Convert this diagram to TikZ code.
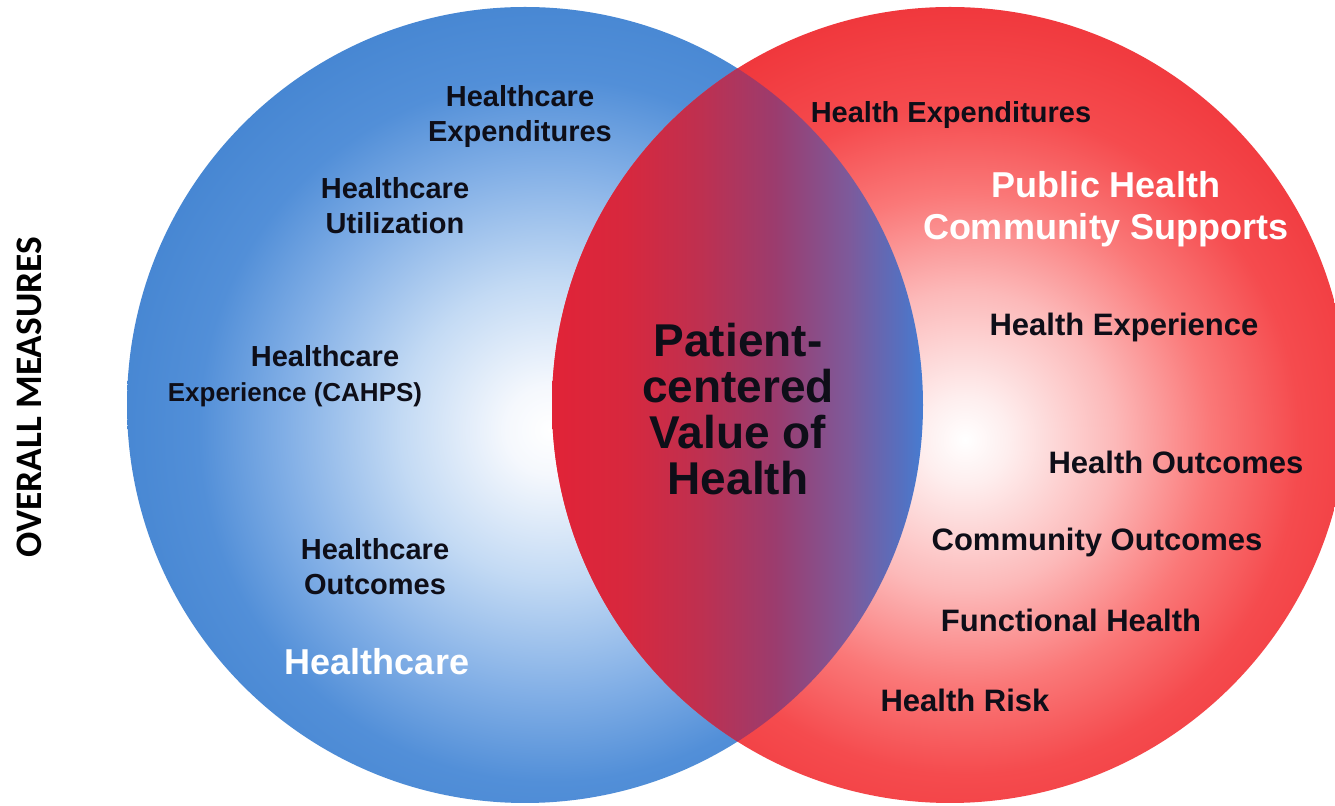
\documentclass[tikz,border=0pt]{standalone}
\usepackage{fontspec}
\setmainfont{Liberation Sans}
\newfontfamily\calib{Carlito}
\definecolor{txt}{RGB}{14,14,24}
\definecolor{bA}{RGB}{245,248,253}
\definecolor{bB}{RGB}{195,218,244}
\definecolor{bC}{RGB}{130,175,230}
\definecolor{bD}{RGB}{82,143,216}
\definecolor{bE}{RGB}{70,134,210}
\definecolor{rA}{RGB}{254,238,238}
\definecolor{rB}{RGB}{252,185,185}
\definecolor{rC}{RGB}{250,120,120}
\definecolor{rD}{RGB}{245,75,78}
\definecolor{rE}{RGB}{240,55,60}
\definecolor{m1}{RGB}{225,35,55}
\definecolor{m2}{RGB}{215,40,62}
\definecolor{m3}{RGB}{190,48,80}
\definecolor{m4}{RGB}{155,60,110}
\definecolor{m5}{RGB}{125,90,155}
\definecolor{m6}{RGB}{85,112,192}
\definecolor{m7}{RGB}{70,125,210}
\pgfdeclareradialshading{bluesh}{\pgfpoint{0bp}{0bp}}{color(0bp)=(white); color(2.5bp)=(bA); color(8.5bp)=(bB); color(15bp)=(bC); color(20bp)=(bD); color(25bp)=(bE); color(50bp)=(bE)}
\pgfdeclareradialshading{redsh}{\pgfpoint{0bp}{0bp}}{color(0bp)=(white); color(2.5bp)=(rA); color(8.5bp)=(rB); color(14bp)=(rC); color(19bp)=(rD); color(25bp)=(rE); color(50bp)=(rE)}
\pgfdeclarehorizontalshading{midsh}{100bp}{color(0bp)=(m1); color(25bp)=(m1); color(35bp)=(m2); color(45bp)=(m3); color(55bp)=(m4); color(65bp)=(m5); color(72bp)=(m6); color(75bp)=(m7); color(100bp)=(m7)}
\tikzset{
  lab/.style={font=\bfseries\fontsize{14.5}{17.5}\selectfont, text=txt, align=center, inner sep=0pt},
  rlab/.style={font=\bfseries\fontsize{15.5}{18}\selectfont, text=txt, align=center, inner sep=0pt},
  wlab/.style={font=\bfseries\fontsize{18}{21}\selectfont, text=white, align=center, inner sep=0pt},
  biglab/.style={font=\bfseries\fontsize{23}{23}\selectfont, text=txt, align=center, inner sep=0pt},
  sidelab/.style={font=\calib\bfseries\fontsize{18.7}{22}\selectfont, text=black, rotate=90, inner sep=0pt}
}
\begin{document}
\begin{tikzpicture}[x=0.5pt,y=-0.5pt]
\useasboundingbox (0,0) rectangle (1335,806);
\fill[white] (0,0) rectangle (1335,806);
% blue circle
\begin{scope}
\clip (525,405) circle [radius=199pt];
\shade[shading=bluesh] (550,430) circle [radius=220pt];
\end{scope}
% red circle
\begin{scope}
\clip (950,405) circle [radius=199pt];
\shade[shading=redsh] (965,440) circle [radius=220pt];
\end{scope}
% intersection
\begin{scope}
\clip (525,405) circle [radius=199pt];
\clip (950,405) circle [radius=199pt];
\shade[shading=midsh] (552,0) rectangle (924,806);
\end{scope}
% side label
\node[sidelab] (overall) at (29,397) {OVERALL MEASURES};
% left labels
\node[lab] (hcexp) at (520,117) {Healthcare\\Expenditures};
\node[lab] (hcutil) at (395,206) {Healthcare\\Utilization};
\node[lab] (hcexpe) at (295,376) {\hspace*{30pt}Healthcare\\{\fontsize{13}{17.5}\selectfont Experience (CAHPS)}};
\node[lab] (hcout) at (375,567) {Healthcare\\Outcomes};
\node[wlab] (hc) at (377,662) {Healthcare};
% center
\node[biglab] (pcv) at (738,409) {Patient-\\centered\\Value of\\Health};
% right labels
\node[rlab, font=\bfseries\fontsize{14.5}{18}\selectfont] (hexp) at (951,115) {Health Expenditures};
\node[wlab] (phcs) at (1106,209) {Public Health\\Community Supports};
\node[rlab] (hexpe) at (1124,327) {Health Experience};
\node[rlab] (hout) at (1176,462) {Health Outcomes};
\node[rlab] (cout) at (1097,542) {Community Outcomes};
\node[rlab] (fh) at (1071,620) {Functional Health};
\node[rlab] (hr) at (965,700) {Health Risk};
\end{tikzpicture}
\end{document}
